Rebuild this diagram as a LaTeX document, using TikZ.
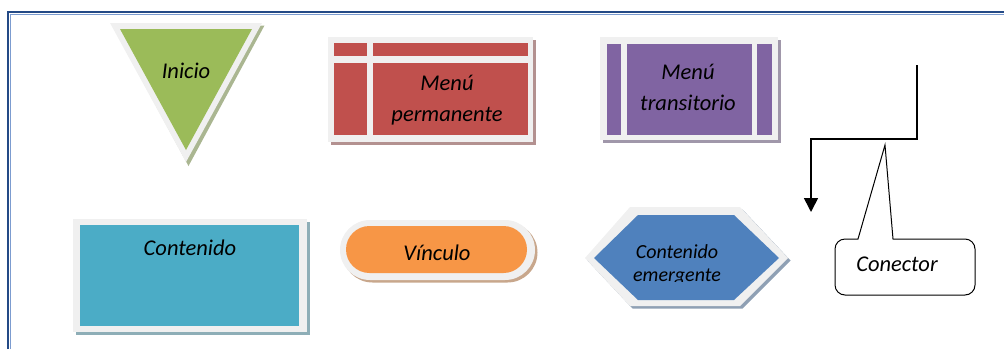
\documentclass[tikz,border=0pt]{standalone}
\usepackage{fontspec}
\setmainfont{Carlito}
\usetikzlibrary{arrows.meta}
\usetikzlibrary{positioning}

\definecolor{frameblue}{HTML}{244A86}
\definecolor{framelight}{HTML}{7C9CD0}
\definecolor{rim}{HTML}{F0F0F0}
\definecolor{oliva}{HTML}{9BBB59}
\definecolor{rojo}{HTML}{C0504D}
\definecolor{morado}{HTML}{8064A2}
\definecolor{cian}{HTML}{4BACC6}
\definecolor{naranja}{HTML}{F79646}
\definecolor{azul}{HTML}{4F81BD}

\tikzset{
    lbl/.style={font=\fontsize{22.5}{31}\selectfont\itshape, align=center, inner sep=0pt},
    conline/.style={line width=1.6pt, line join=miter}
}

\begin{document}
\begin{tikzpicture}[x=1pt,y=-1pt]
            \useasboundingbox (0,0) rectangle (1004,349);
            % marco
            \draw[frameblue, line width=2pt] (8,349) -- (8,12) -- (1004,12);
            \draw[framelight, line width=0.8pt] (10.2,349) -- (10.2,14.2) -- (1004,14.2);

            % Inicio
            \fill[oliva!50!gray!75!white] (112.5,25.5) -- (264.5,25.5) -- (188.5,166) -- cycle;
            \fill[rim] (110,23) -- (262,23) -- (186,162) -- cycle;
            \fill[oliva] (120,29) -- (252,29) -- (186,150) -- cycle;
            \node[lbl] (inicio) at (186,71) {Inicio};

            % Menu permanente
            \fill[rojo!40!gray!75!white] (330.5,39.5) rectangle (535.5,144.5);
            \fill[rim] (328,37) rectangle (533,142);
            \fill[rojo] (334,43) rectangle (528,135);
            \fill[rim] (334,56) rectangle (528,63);
            \fill[rim] (367,43) rectangle (373,135);
            \node[lbl] (perm) at (447,100) {Menú\\permanente};

            % Menu transitorio
            \fill[morado!40!gray!75!white] (602.5,39.5) rectangle (780.5,142.5);
            \fill[rim] (600,37) rectangle (778,140);
            \fill[morado] (607,44) rectangle (772,135);
            \fill[rim] (621,44) rectangle (627,135);
            \fill[rim] (752,44) rectangle (757,135);
            \node[lbl] (trans) at (688,87) {Menú\\transitorio};

            % Contenido
            \fill[cian!45!gray!75!white] (75.5,221.5) rectangle (309.5,335);
            \fill[rim] (73,219) rectangle (307,332);
            \fill[cian] (80,225) rectangle (299,326);
            \node[lbl] (cont) at (190,248) {Contenido};

            % Vinculo
            \fill[naranja!45!gray!75!white, rounded corners=30pt] (342.5,222.5) rectangle (537.5,282.5);
            \fill[rim, rounded corners=30pt] (340,220) rectangle (535,280);
            \fill[naranja, rounded corners=23.5pt] (346,226) rectangle (527,273);
            \node[lbl] (vinc) at (437,253) {Vínculo};

            % Contenido emergente
            \fill[azul!45!gray!75!white] (587.5,260.5) -- (632.5,209.5) -- (742.5,209.5) -- (790.5,260.5) -- (742.5,308.5) -- (632.5,308.5) -- cycle;
            \fill[rim] (585,258) -- (630,207) -- (740,207) -- (788,258) -- (740,306) -- (630,306) -- cycle;
            \fill[azul] (594,258) -- (638,215) -- (734,215) -- (779,258) -- (734,300) -- (638,300) -- cycle;
            \begin{scope}
                \clip (594,200) rectangle (779,281);
                \node[lbl, font=\fontsize{20}{23}\selectfont\itshape] (emerg) at (677,264.5) {Contenido\\emergente};
            \end{scope}

            % Conector
            \coordinate (ctop) at (917,65);
            \coordinate (ccorner) at (811,139);
            \coordinate (cend) at (811,212);
            \draw[conline, -{Triangle[width=14pt,length=14pt]}] (ctop) |- (ccorner) -- (cend);
            \coordinate (ctip) at (885,145);
            \draw[line width=1pt] (ctip) -- (893,239) [rounded corners=10pt] -- (975,239) -- (975,295)
                -- (835,295) -- (835,239) [sharp corners] -- (858,239) -- cycle;
            \node[lbl] (conect) at (897,264) {Conector};
        \end{tikzpicture}
\end{document}
